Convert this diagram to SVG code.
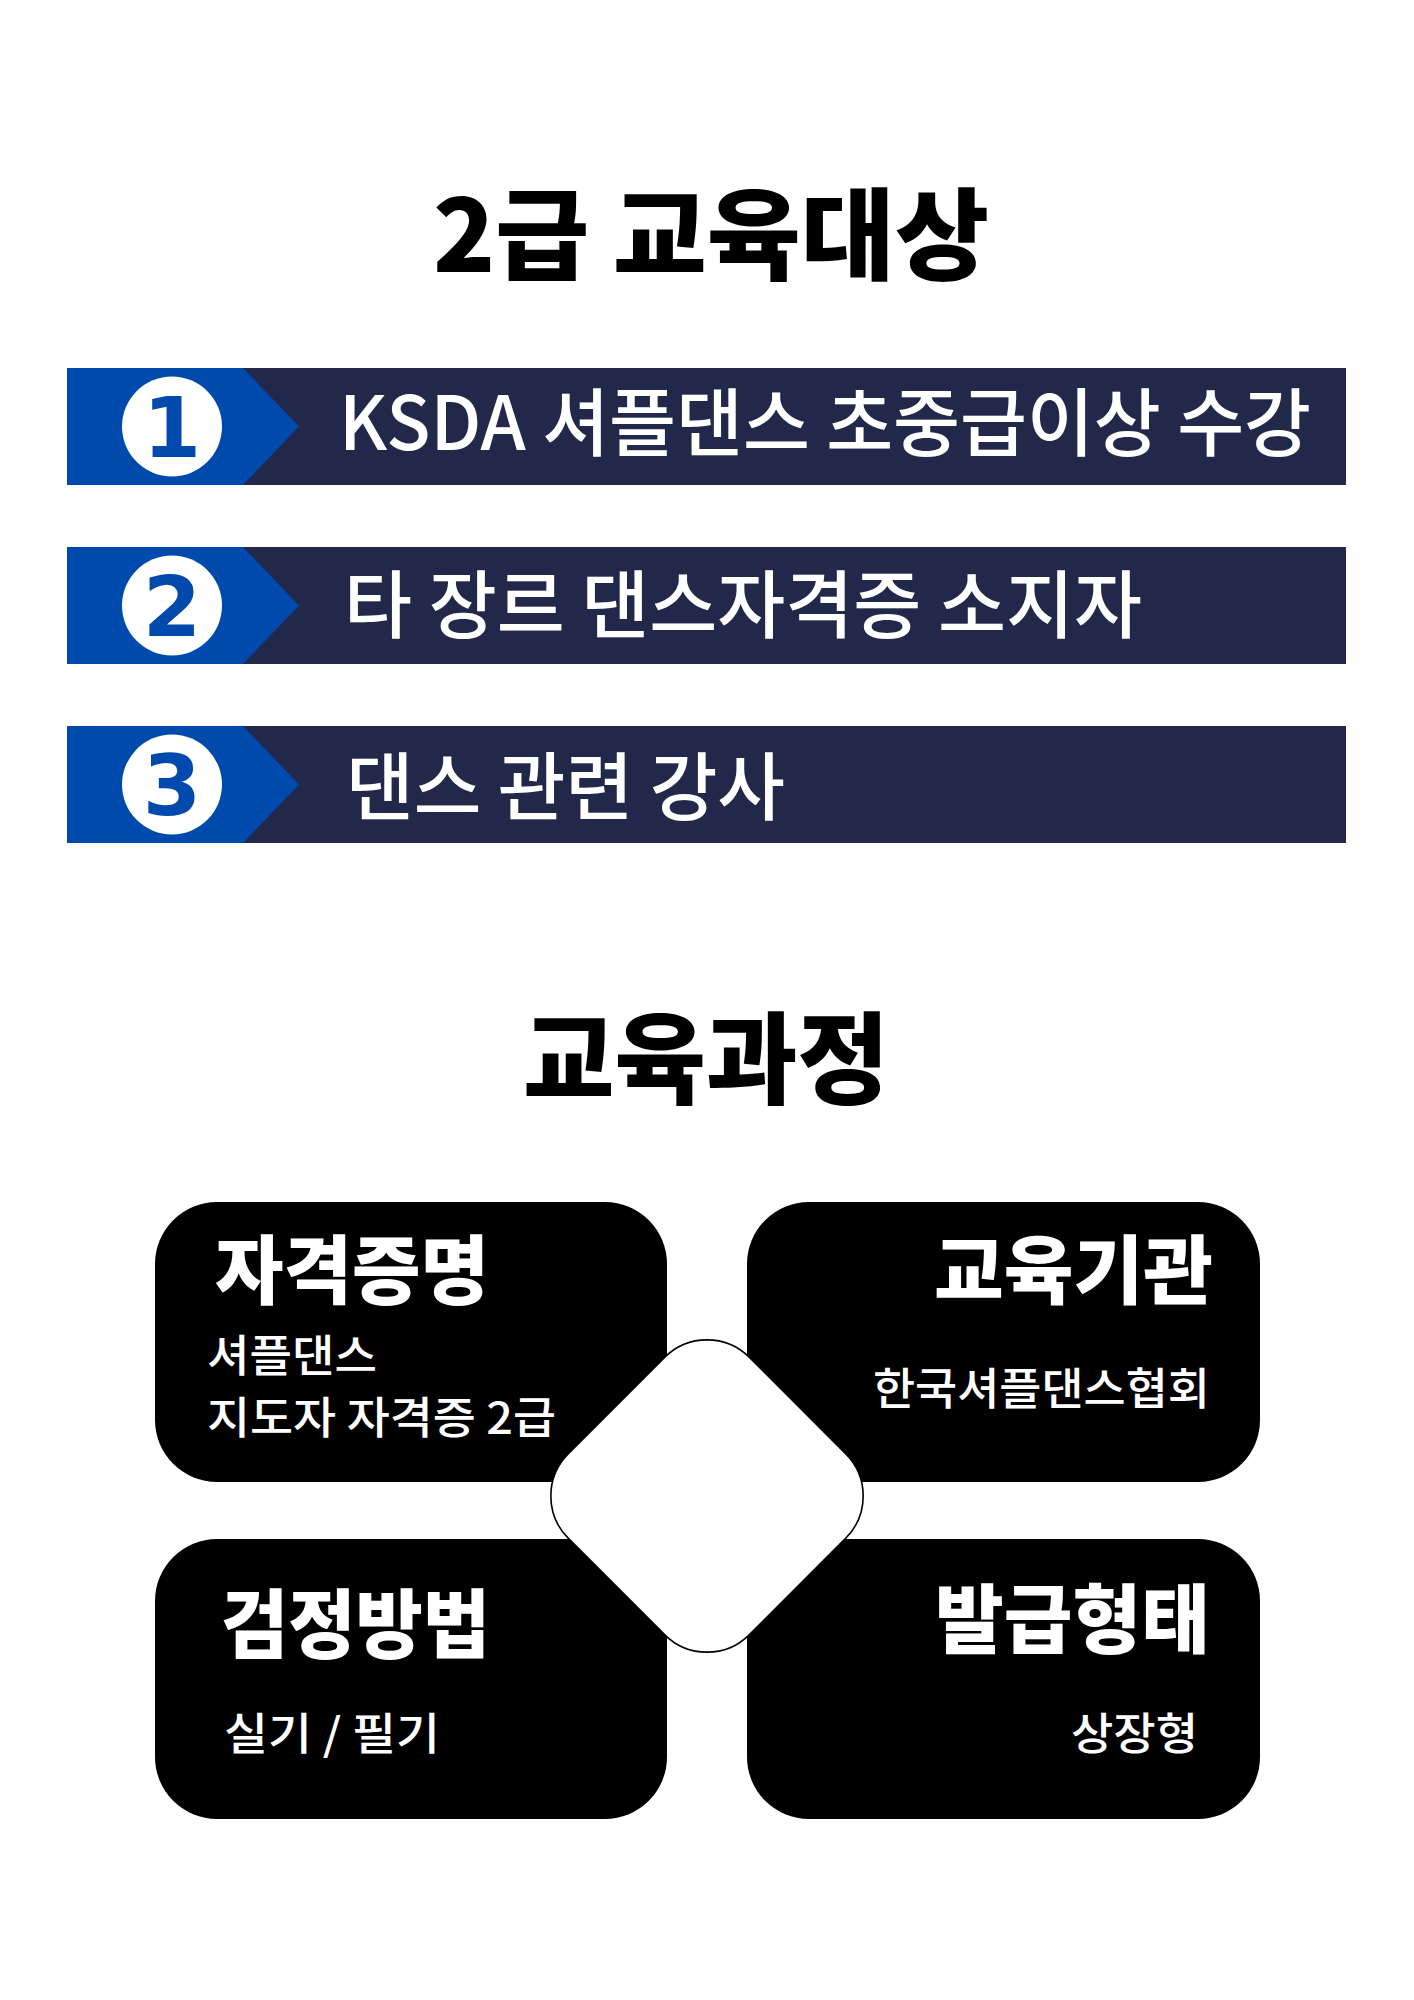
<svg xmlns="http://www.w3.org/2000/svg" width="1414" height="2000" viewBox="0 0 1414 2000">
<style>
.bg{fill:#ffffff}
.navy{fill:#22284a}
.blue{fill:#0049ad}
.circ{fill:#ffffff}
.num{font-family:"DejaVu Sans",sans-serif;font-weight:bold;font-size:84px;fill:#0049ad;text-anchor:middle}
.bartxt{font-family:"Noto Sans CJK KR","Noto Sans",sans-serif;font-weight:500;font-size:74px;fill:#ffffff}
.title{font-family:"Noto Sans CJK KR",sans-serif;font-weight:900;font-size:100px;fill:#000000}
.card{fill:#000000}
.head{font-family:"Noto Sans CJK KR",sans-serif;font-weight:900;font-size:75px;fill:#ffffff}
.sub{font-family:"Noto Sans CJK KR",sans-serif;font-weight:500;font-size:44px;fill:#ffffff}
.dia{fill:#ffffff;stroke:#000000;stroke-width:1.6}
</style>
<rect class="bg" x="0" y="0" width="1414" height="2000"/>

<g id="title1">
<text class="title" x="433" y="272" textLength="556" lengthAdjust="spacingAndGlyphs">2급 교육대상</text>
</g>

<g id="item1">
<rect class="navy" x="67" y="368" width="1279" height="117"/>
<polygon class="blue" points="67,368 243,368 299,426.5 243,485 67,485"/>
<circle class="circ" cx="172" cy="426.5" r="50"/>
<text class="num" x="172" y="457">1</text>
<text class="bartxt" x="339" y="450" textLength="972" lengthAdjust="spacingAndGlyphs">KSDA 셔플댄스 초중급이상 수강</text>
</g>

<g id="item2">
<rect class="navy" x="67" y="547" width="1279" height="117"/>
<polygon class="blue" points="67,547 243,547 299,605.5 243,664 67,664"/>
<circle class="circ" cx="172" cy="605.5" r="50"/>
<text class="num" x="172" y="636">2</text>
<text class="bartxt" x="344" y="632" textLength="798" lengthAdjust="spacingAndGlyphs">타 장르 댄스자격증 소지자</text>
</g>

<g id="item3">
<rect class="navy" x="67" y="726" width="1279" height="117"/>
<polygon class="blue" points="67,726 243,726 299,784.5 243,843 67,843"/>
<circle class="circ" cx="172" cy="784.5" r="50"/>
<text class="num" x="172" y="815">3</text>
<text class="bartxt" x="346" y="814" textLength="439" lengthAdjust="spacingAndGlyphs">댄스 관련 강사</text>
</g>

<g id="title2">
<text class="title" x="523" y="1096" textLength="366" lengthAdjust="spacingAndGlyphs">교육과정</text>
</g>

<g id="card-certificate">
<rect class="card" x="155" y="1202" width="512" height="280" rx="62" ry="62"/>
<text class="head" x="215" y="1298" textLength="274" lengthAdjust="spacingAndGlyphs">자격증명</text>
<text class="sub" x="207" y="1372" textLength="170" lengthAdjust="spacingAndGlyphs">셔플댄스</text>
<text class="sub" x="207" y="1434" textLength="349" lengthAdjust="spacingAndGlyphs">지도자 자격증 2급</text>
</g>

<g id="card-institution">
<rect class="card" x="747" y="1202" width="513" height="280" rx="62" ry="62"/>
<text class="head" x="934" y="1298" textLength="279" lengthAdjust="spacingAndGlyphs">교육기관</text>
<text class="sub" x="873" y="1405" textLength="337" lengthAdjust="spacingAndGlyphs">한국셔플댄스협회</text>
</g>

<g id="card-method">
<rect class="card" x="155" y="1539" width="512" height="280" rx="62" ry="62"/>
<text class="head" x="221" y="1652" textLength="269" lengthAdjust="spacingAndGlyphs">검정방법</text>
<text class="sub" x="224" y="1750" textLength="216" lengthAdjust="spacingAndGlyphs">실기 / 필기</text>
</g>

<g id="card-issue">
<rect class="card" x="747" y="1539" width="513" height="280" rx="62" ry="62"/>
<text class="head" x="935" y="1647" textLength="275" lengthAdjust="spacingAndGlyphs">발급형태</text>
<text class="sub" x="1071" y="1750" textLength="127" lengthAdjust="spacingAndGlyphs">상장형</text>
</g>

<g id="center-diamond">
<rect class="dia" x="-128" y="-128" width="256" height="256" rx="60" ry="60" transform="translate(707,1496) rotate(45)"/>
</g>
</svg>
